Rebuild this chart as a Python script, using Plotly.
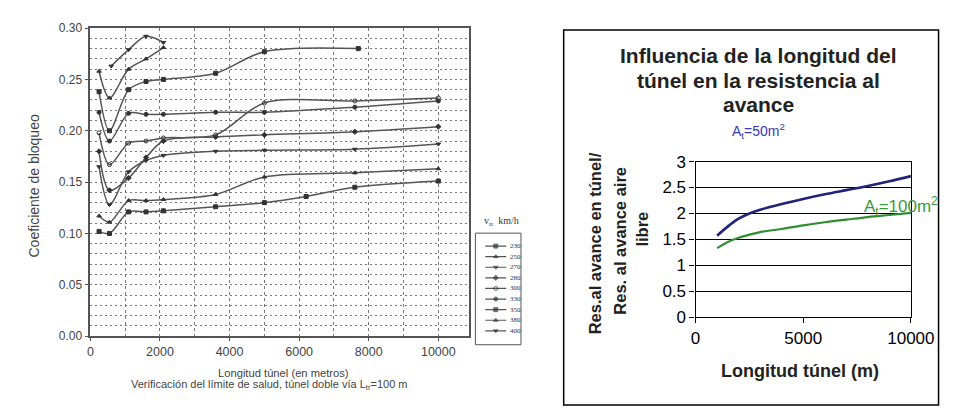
import plotly.graph_objects as go

W, H = 964, 411
def px(x): return x / W
def py(y): return 1 - y / H

# ---------------- Left chart data (Coeficiente de bloqueo) ----------------
speeds = [230, 250, 270, 280, 300, 330, 350, 380, 400]

x_230 = [250, 550, 1100, 1600, 2100, 3600, 5000, 6200, 7600, 10000]
y_230 = [0.102, 0.100, 0.121, 0.121, 0.122, 0.126, 0.130, 0.136, 0.145, 0.151]

x_250 = [250, 550, 1100, 1600, 2100, 3600, 5000, 7600, 10000]
y_250 = [0.117, 0.111, 0.132, 0.132, 0.133, 0.138, 0.155, 0.159, 0.163]

x_270 = [250, 550, 1100, 1600, 2100, 3600, 5000, 7600, 10000]
y_270 = [0.165, 0.128, 0.160, 0.171, 0.176, 0.180, 0.181, 0.182, 0.187]

x_280 = [250, 550, 1100, 1600, 2100, 3600, 5000, 7600, 10000]
y_280 = [0.180, 0.142, 0.154, 0.174, 0.190, 0.194, 0.196, 0.199, 0.204]

x_300 = [250, 550, 1100, 1600, 2100, 3600, 5000, 7600, 10000]
y_300 = [0.198, 0.167, 0.188, 0.190, 0.193, 0.196, 0.227, 0.229, 0.232]

x_330 = [250, 550, 1100, 1600, 2100, 3600, 5000, 7600, 10000]
y_330 = [0.218, 0.190, 0.217, 0.216, 0.216, 0.218, 0.218, 0.223, 0.229]

x_350 = [250, 550, 1100, 1600, 2100, 3600, 5000, 7700]
y_350 = [0.238, 0.200, 0.240, 0.248, 0.250, 0.256, 0.277, 0.280]

x_380 = [250, 550, 1100, 1600, 2100]
y_380 = [0.258, 0.232, 0.260, 0.270, 0.281]

x_400 = [600, 1100, 1600, 2100]
y_400 = [0.263, 0.279, 0.292, 0.286]

left_x = [x_230, x_250, x_270, x_280, x_300, x_330, x_350, x_380, x_400]
left_y = [y_230, y_250, y_270, y_280, y_300, y_330, y_350, y_380, y_400]
symbols = ['square', 'triangle-up', 'triangle-down', 'diamond', 'circle-open',
           'circle', 'square', 'triangle-up', 'triangle-down']

x_ticks_left = [0, 2000, 4000, 6000, 8000, 10000]
y_ticks_left = [0.00, 0.05, 0.10, 0.15, 0.20, 0.25, 0.30]

# ---------------- Right chart data ----------------
x_len = [1000, 1500, 2000, 2500, 3000, 4000, 5000, 6000, 7000, 8000, 9000, 10000]
res_50 = [1.57, 1.75, 1.90, 2.00, 2.07, 2.18, 2.28, 2.37, 2.45, 2.53, 2.62, 2.72]
res_100 = [1.33, 1.45, 1.53, 1.59, 1.64, 1.70, 1.77, 1.83, 1.88, 1.93, 1.97, 2.01]
x_ticks_right = [0, 5000, 10000]

fig = go.Figure()

line_col = '#555555'
mk_col = '#333333'
for sp, xs, ys, sym in zip(speeds, left_x, left_y, symbols):
    fig.add_trace(go.Scatter(
        x=xs, y=ys, mode='lines+markers', name=str(sp),
        line=dict(color=line_col, width=1.5, shape='spline', smoothing=0.9),
        marker=dict(symbol=sym, size=4, color=mk_col, line=dict(color=mk_col, width=1)),
        xaxis='x', yaxis='y', showlegend=False))

# Legend samples (drawn on auxiliary axis)
for i, (sp, sym) in enumerate(zip(speeds, symbols)):
    fig.add_trace(go.Scatter(
        x=[0, 0.5, 1], y=[i, i, i], mode='lines+markers',
        line=dict(color=line_col, width=1.2),
        marker=dict(symbol=sym, size=[0, 4, 0], color=mk_col, line=dict(color=mk_col, width=1)),
        xaxis='x3', yaxis='y3', showlegend=False, hoverinfo='skip'))

fig.add_trace(go.Scatter(x=x_len, y=res_50, mode='lines', name='At=50m2',
                         line=dict(color='#22227a', width=2.6, shape='spline'),
                         xaxis='x2', yaxis='y2', showlegend=False))
fig.add_trace(go.Scatter(x=x_len, y=res_100, mode='lines', name='At=100m2',
                         line=dict(color='#2f8f2f', width=2.2, shape='spline'),
                         xaxis='x2', yaxis='y2', showlegend=False))

grid_c = '#7a7a7a'
fig.update_layout(
    width=W, height=H, autosize=False,
    margin=dict(l=0, r=0, t=0, b=0),
    paper_bgcolor='white', plot_bgcolor='white',
    font=dict(family='Liberation Sans, Arial, sans-serif', color='#222'),
    xaxis=dict(domain=[px(88), px(478)], range=[0, 10870], anchor='y',
               tickvals=x_ticks_left, tickformat='d', ticks='outside', ticklen=3, tickcolor='#555',
               showline=True, mirror=True, linecolor='#555', linewidth=1.5,
               showgrid=True, gridcolor=grid_c, gridwidth=1, griddash='3px,3px',
               minor=dict(dtick=1000, tick0=0, showgrid=True, gridcolor=grid_c,
                          gridwidth=1, griddash='3px,3px'),
               zeroline=False,
               tickfont=dict(family='Liberation Sans', size=12.5, color='#444')),
    yaxis=dict(domain=[py(343), py(20)], range=[0, 0.30], anchor='x',
               tickvals=y_ticks_left, tickformat='.2f', ticks='outside', ticklen=4,
               tickcolor='#555',
               showline=True, mirror=True, linecolor='#555', linewidth=1.5,
               showgrid=True, gridcolor=grid_c, gridwidth=1, griddash='2px,3px',
               minor=dict(dtick=0.01, tick0=0, showgrid=True, gridcolor=grid_c,
                          gridwidth=1, griddash='2px,3px'),
               zeroline=False,
               tickfont=dict(family='Liberation Sans', size=12, color='#444')),
    xaxis2=dict(domain=[px(712), px(934)], range=[0, 10000], anchor='y2',
                tickvals=x_ticks_right, tickformat='d', ticks='outside', ticklen=5,
                tickcolor='black',
                showline=True, mirror=True, linecolor='black', linewidth=1.3,
                showgrid=False, zeroline=False,
                tickfont=dict(family='Liberation Sans', size=17, color='black')),
    yaxis2=dict(domain=[py(323), py(160)], range=[0, 3], anchor='x2',
                dtick=0.5, ticks='outside', ticklen=5, tickcolor='black',
                showline=True, mirror=True, linecolor='black', linewidth=1.3,
                showgrid=True, gridcolor='black', gridwidth=1.3, zeroline=False,
                tickfont=dict(family='Liberation Sans', size=17, color='black')),
    xaxis3=dict(domain=[px(495), px(517)], range=[0, 1], anchor='y3', visible=False),
    yaxis3=dict(domain=[py(343), py(243)], range=[8.5, -0.5], anchor='x3', visible=False),
)

def A(x, y, text, size, color='#222', family='Liberation Sans', angle=0,
      xanchor='center', yref='paper'):
    return dict(x=x, y=y, xref='paper', yref=yref, text=text, textangle=angle,
                xanchor=xanchor, yanchor='middle', showarrow=False,
                font=dict(size=size, color=color, family=family))

ann = []
# Left chart texts
ann.append(A(px(30), py(186), 'Coeficiente de bloqueo', 14, '#444', angle=-90))
ann.append(A(px(287), py(382), 'Longitud túnel (en metros)', 11.2, '#444'))
ann.append(A(px(273), py(394),
             'Verificación del límite de salud, túnel doble vía L<sub>tr</sub>=100 m', 11, '#444'))
ann.append(A(px(512), py(223), 'v<sub>tr</sub>  km/h', 10, '#333', family='Liberation Serif'))
for i, sp in enumerate(speeds):
    ann.append(A(px(519), i, str(sp), 7, '#333', family='Liberation Serif',
                 xanchor='left', yref='y3'))

# Right chart texts
for txt, yy in [('Influencia de la longitud del', 49), ('túnel en la resistencia al', 75),
                ('avance', 100)]:
    ann.append(A(px(777), py(yy), '<b>' + txt + '</b>', 21, '#222'))
ann.append(A(px(777), py(128), 'A<sub>t</sub>=50m<sup>2</sup>', 14, '#3a3ab8'))
ann.append(A(px(884), py(207), 'A<sub>t</sub>=100m<sup>2</sup>', 17, '#3a9a3a', xanchor='left'))
for txt, xx, yy in [('Res.al avance en túnel/', 608, 246), ('Res. al avance aire', 634, 243),
                    ('libre', 657, 231)]:
    ann.append(A(px(xx), py(yy), '<b>' + txt + '</b>', 16.5, '#222', angle=-90))
ann.append(A(px(820), py(380), '<b>Longitud túnel (m)</b>', 18, '#222'))
fig.update_layout(annotations=ann)

fig.update_layout(shapes=[
    dict(type='rect', xref='paper', yref='paper', x0=px(576), x1=px(962.5),
         y0=-0.01, y1=py(22), line=dict(color='black', width=1.5), fillcolor='rgba(0,0,0,0)'),
    dict(type='rect', xref='paper', yref='paper', x0=px(485), x1=px(532),
         y0=py(352), y1=py(235), line=dict(color='#555', width=1), fillcolor='rgba(0,0,0,0)'),
])

fig.write_html('out.html',
               post_script="document.body.style.margin='0';document.body.style.overflow='hidden';")
